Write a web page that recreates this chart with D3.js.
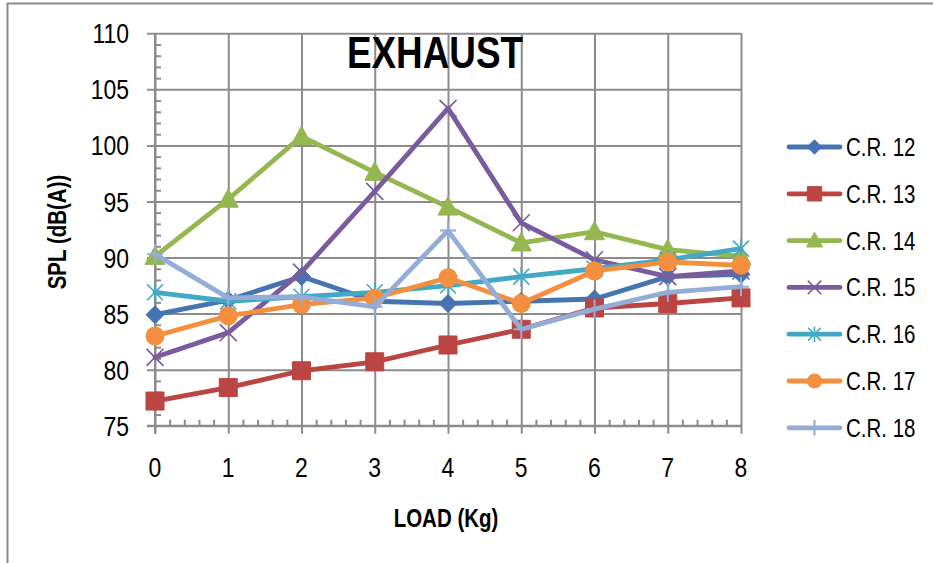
<!DOCTYPE html>
<html>
<head>
<meta charset="utf-8">
<script src="https://cdn.jsdelivr.net/npm/d3@7"></script>
<style>
  html, body { margin: 0; padding: 0; background: #fff; }
  svg { display: block; }
  text { font-family: "Liberation Sans", Arial, sans-serif; fill: #000; }
</style>
</head>
<body>
<svg id="chart" width="933" height="563"></svg>
<script>
// Load steps (kg) and tick labels
const loads = [0, 1, 2, 3, 4, 5, 6, 7, 8];
const yTickValues = [75, 80, 85, 90, 95, 100, 105, 110];

// Sound pressure level, dB(A), one array per compression ratio
const cr12 = [84.9, 86.2, 88.3, 86.1, 85.9, 86.1, 86.3, 88.3, 88.5];
const cr13 = [77.2, 78.4, 79.9, 80.7, 82.2, 83.6, 85.5, 85.9, 86.4];
const cr14 = [90.1, 95.2, 100.8, 97.6, 94.5, 91.3, 92.3, 90.7, 90.1];
const cr15 = [81.1, 83.3, 88.7, 95.9, 103.3, 93.1, 89.8, 88.3, 88.8];
const cr16 = [86.9, 86.1, 86.5, 86.9, 87.5, 88.3, 89.0, 89.8, 90.8];
const cr17 = [83.0, 84.8, 85.8, 86.4, 88.2, 85.9, 88.8, 89.6, 89.3];
const cr18 = [90.3, 86.4, 86.5, 85.6, 92.4, 83.6, 85.4, 86.9, 87.4];

const seriesNames = ["C.R. 12", "C.R. 13", "C.R. 14", "C.R. 15", "C.R. 16", "C.R. 17", "C.R. 18"];
const seriesValues = [cr12, cr13, cr14, cr15, cr16, cr17, cr18];
const seriesColors = ["#4674B0", "#BA4542", "#94B750", "#7A5C9E", "#43A8C4", "#F38F3F", "#94ADD6"];
const seriesMarkers = ["diamond", "square", "triangle", "cross", "asterisk", "circle", "plus"];

const svg = d3.select("#chart");

// narrow text: Liberation Sans squeezed horizontally
const NARROW = 0.82;
function narrowText(parent, tx, ty, str, opts = {}) {
  const t = parent.append("text")
    .attr("transform", `translate(${tx},${ty})${opts.rotate ? ` rotate(${opts.rotate})` : ""} scale(${NARROW},1)`)
    .attr("font-size", opts.size || 25)
    .attr("text-anchor", opts.anchor || "start")
    .text(str);
  if (opts.bold) t.attr("font-weight", "bold");
  if (opts.dy) t.attr("dy", opts.dy);
  return t;
}

// chart area frame
svg.append("rect")
  .attr("x", 7.5).attr("y", 3.5)
  .attr("width", 940).attr("height", 580)
  .attr("fill", "none").attr("stroke", "#8a8a8a").attr("stroke-width", 2);

const plot = { left: 155, right: 741, top: 33.3, bottom: 425.7 };

const x = d3.scaleLinear().domain([0, 8]).range([plot.left, plot.right]);
const y = d3.scaleLinear().domain([75, 110]).range([plot.bottom, plot.top]);

const gridColor = "#8c8c8c";

// horizontal gridlines with outward major ticks
const gY = svg.append("g").attr("transform", `translate(${plot.left},0)`)
  .call(d3.axisLeft(y).tickValues(yTickValues).tickSize(-(plot.right - plot.left)).tickPadding(0).tickFormat(""));
gY.select(".domain").remove();
gY.selectAll(".tick line").attr("x1", -8).attr("stroke", gridColor).attr("stroke-width", 2);

// vertical gridlines with outward major ticks
const gX = svg.append("g").attr("transform", `translate(0,${plot.bottom})`)
  .call(d3.axisBottom(x).tickValues(loads).tickSize(-(plot.bottom - plot.top)).tickFormat(""));
gX.select(".domain").remove();
gX.selectAll(".tick line").attr("y1", 8).attr("stroke", gridColor).attr("stroke-width", 2);

// minor ticks (inside)
const yMinor = d3.range(76, 110, 1).filter(v => v % 5 !== 0);
svg.append("g").attr("transform", `translate(${plot.left},0)`)
  .call(d3.axisRight(y).tickValues(yMinor).tickSize(6).tickFormat(""))
  .call(g => g.select(".domain").remove())
  .selectAll(".tick line").attr("stroke", gridColor).attr("stroke-width", 2);

const xMinor = d3.range(0, 8.0001, 0.2).filter(v => Math.abs(v - Math.round(v)) > 1e-6);
svg.append("g").attr("transform", `translate(0,${plot.bottom})`)
  .call(d3.axisTop(x).tickValues(xMinor).tickSize(6).tickFormat(""))
  .call(g => g.select(".domain").remove())
  .selectAll(".tick line").attr("stroke", gridColor).attr("stroke-width", 2);

// axis lines
svg.append("line").attr("x1", plot.left).attr("x2", plot.left).attr("y1", plot.top).attr("y2", plot.bottom + 8)
  .attr("stroke", gridColor).attr("stroke-width", 2);
svg.append("line").attr("x1", plot.left - 8).attr("x2", plot.right).attr("y1", plot.bottom).attr("y2", plot.bottom)
  .attr("stroke", gridColor).attr("stroke-width", 2);

// tick labels
const yLabels = svg.append("g");
yTickValues.forEach(v => narrowText(yLabels, 129, y(v), v, { size: 28, anchor: "end", dy: "0.36em" }));
const xLabels = svg.append("g");
loads.forEach(v => narrowText(xLabels, x(v), 477, v, { size: 28, anchor: "middle" }));

// titles
narrowText(svg, 435, 68, "EXHAUST", { size: 45, bold: true, anchor: "middle" });
narrowText(svg, 66, 232, "SPL (dB(A))", { size: 25, bold: true, anchor: "middle", rotate: -90 });
narrowText(svg, 446, 527, "LOAD (Kg)", { size: 25, bold: true, anchor: "middle" });

// marker shapes
function markerPath(type, r) {
  switch (type) {
    case "diamond": return `M0,${-r}L${r},0L0,${r}L${-r},0Z`;
    case "square": return `M${-r},${-r}H${r}V${r}H${-r}Z`;
    case "triangle": return `M0,${-r * 1.05}L${r},${r * 0.8}L${-r},${r * 0.8}Z`;
    case "cross": return `M${-r},${-r}L${r},${r}M${-r},${r}L${r},${-r}`;
    case "asterisk": return `M${-r},${-r}L${r},${r}M${-r},${r}L${r},${-r}M0,${-r * 1.2}V${r * 1.2}`;
    case "plus": return `M0,${-r * 1.2}V${r * 1.2}M${-r},0H${r}`;
    default: return "";
  }
}
const filledMarkers = new Set(["diamond", "square", "triangle", "circle"]);

function drawMarker(g, type, color, cx, cy, r) {
  if (type === "circle") {
    g.append("circle").attr("cx", cx).attr("cy", cy).attr("r", r).attr("fill", color);
  } else if (filledMarkers.has(type)) {
    g.append("path").attr("transform", `translate(${cx},${cy})`).attr("d", markerPath(type, r))
      .attr("fill", color).attr("stroke", color).attr("stroke-width", 1);
  } else {
    g.append("path").attr("transform", `translate(${cx},${cy})`).attr("d", markerPath(type, r))
      .attr("fill", "none").attr("stroke", color).attr("stroke-width", type === "plus" ? 2 : 1.6);
  }
}

const markerRadius = { diamond: 9, square: 9, triangle: 10, cross: 8.5, asterisk: 8, circle: 9.5, plus: 8 };

const line = d3.line().x((d, i) => x(loads[i])).y(d => y(d));

seriesValues.forEach((vals, si) => {
  const g = svg.append("g");
  const color = seriesColors[si];
  g.append("path").datum(vals).attr("d", line)
    .attr("fill", "none").attr("stroke", color).attr("stroke-width", 4.8)
    .attr("stroke-linejoin", "round").attr("stroke-linecap", "round");
  vals.forEach((v, i) => drawMarker(g, seriesMarkers[si], color, x(loads[i]), y(v), markerRadius[seriesMarkers[si]]));
});

// legend
const legend = svg.append("g");
seriesNames.forEach((name, si) => {
  const cy = 147 + si * 46.8;
  const color = seriesColors[si];
  legend.append("line").attr("x1", 789).attr("x2", 840).attr("y1", cy).attr("y2", cy)
    .attr("stroke", color).attr("stroke-width", 4.8).attr("stroke-linecap", "round");
  const r = markerRadius[seriesMarkers[si]] * 0.8;
  drawMarker(legend, seriesMarkers[si], color, 814.5, cy, r);
  narrowText(legend, 846, cy, name, { size: 25, dy: "0.36em" });
});
</script>
</body>
</html>
